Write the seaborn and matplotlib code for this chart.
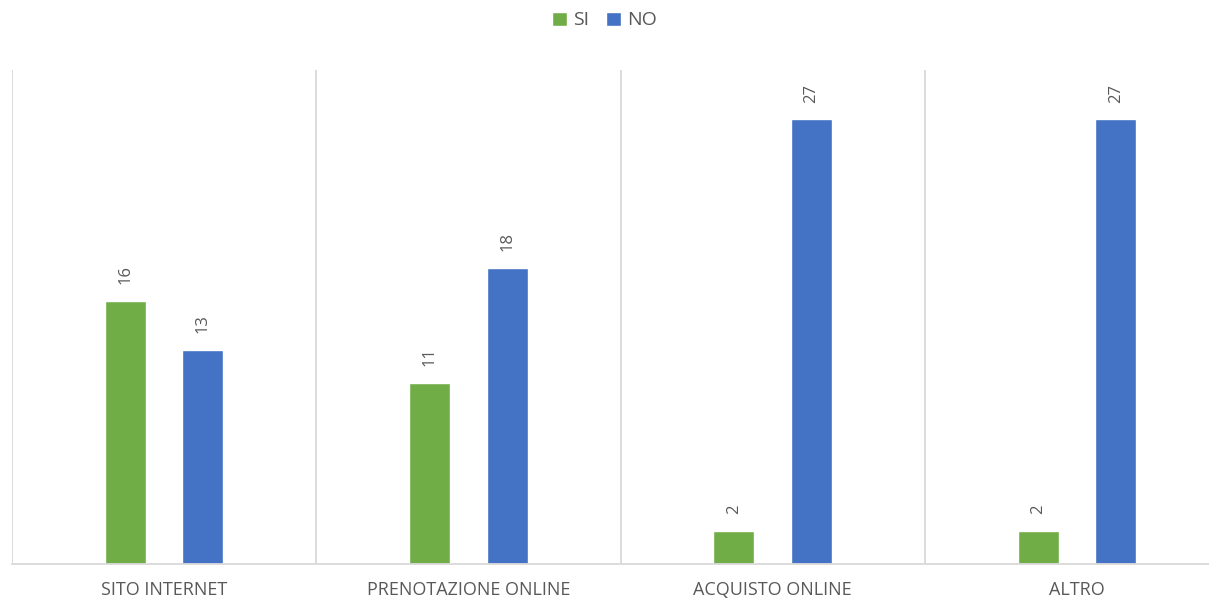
import numpy as np
import pandas as pd
import seaborn as sns
import matplotlib.pyplot as plt

# data
categorie = ['SITO INTERNET', 'PRENOTAZIONE ONLINE', 'ACQUISTO ONLINE', 'ALTRO']
si = [16, 11, 2, 2]
no = [13, 18, 27, 27]
serie = ['SI', 'NO']
colori = ['#70AD47', '#4472C4']

df = pd.DataFrame({
    'categoria': categorie * 2,
    'risposta': ['SI'] * len(categorie) + ['NO'] * len(categorie),
    'valore': si + no,
})

sns.set_style('white')
plt.rcParams['font.family'] = ['Open Sans', 'DejaVu Sans']
grigio = '#595959'
linea = '#D9D9D9'

fig = plt.figure(figsize=(12.09, 6.01), dpi=100)
ax = fig.add_axes([12 / 1209, 37 / 601, 1197 / 1209, 494 / 601])

sns.barplot(data=df, x='categoria', y='valore', hue='risposta', hue_order=serie,
            palette=colori, width=0.51, gap=0.47, saturation=1, ax=ax)

for c in ax.containers:
    ax.bar_label(c, rotation=90, padding=12, color=grigio, fontsize=12)

# separators between categories
for xs in np.arange(-0.5, len(categorie), 1.0):
    ax.axvline(xs, color=linea, lw=1.3, zorder=0)

ax.set_xlim(-0.5, 3.434)
ax.set_ylim(0, 30)
ax.set_xlabel('')
ax.set_ylabel('')
ax.set_yticks([])
for s in ['top', 'right', 'left']:
    ax.spines[s].set_visible(False)
ax.spines['bottom'].set_color(linea)
ax.spines['bottom'].set_linewidth(1.3)
ax.tick_params(axis='x', length=0, pad=12)
ax.set_xticks(range(len(categorie)))
ax.set_xticklabels(categorie, color=grigio, fontsize=13)

sns.move_legend(ax, 'upper center', bbox_to_anchor=(0.5, 1.01),
                bbox_transform=fig.transFigure, ncol=2, frameon=False, title=None,
                handlelength=0.75, handleheight=0.75, handletextpad=0.3,
                columnspacing=0.9, fontsize=14)
for t in ax.get_legend().get_texts():
    t.set_color(grigio)

plt.savefig('out.png', dpi=100)
